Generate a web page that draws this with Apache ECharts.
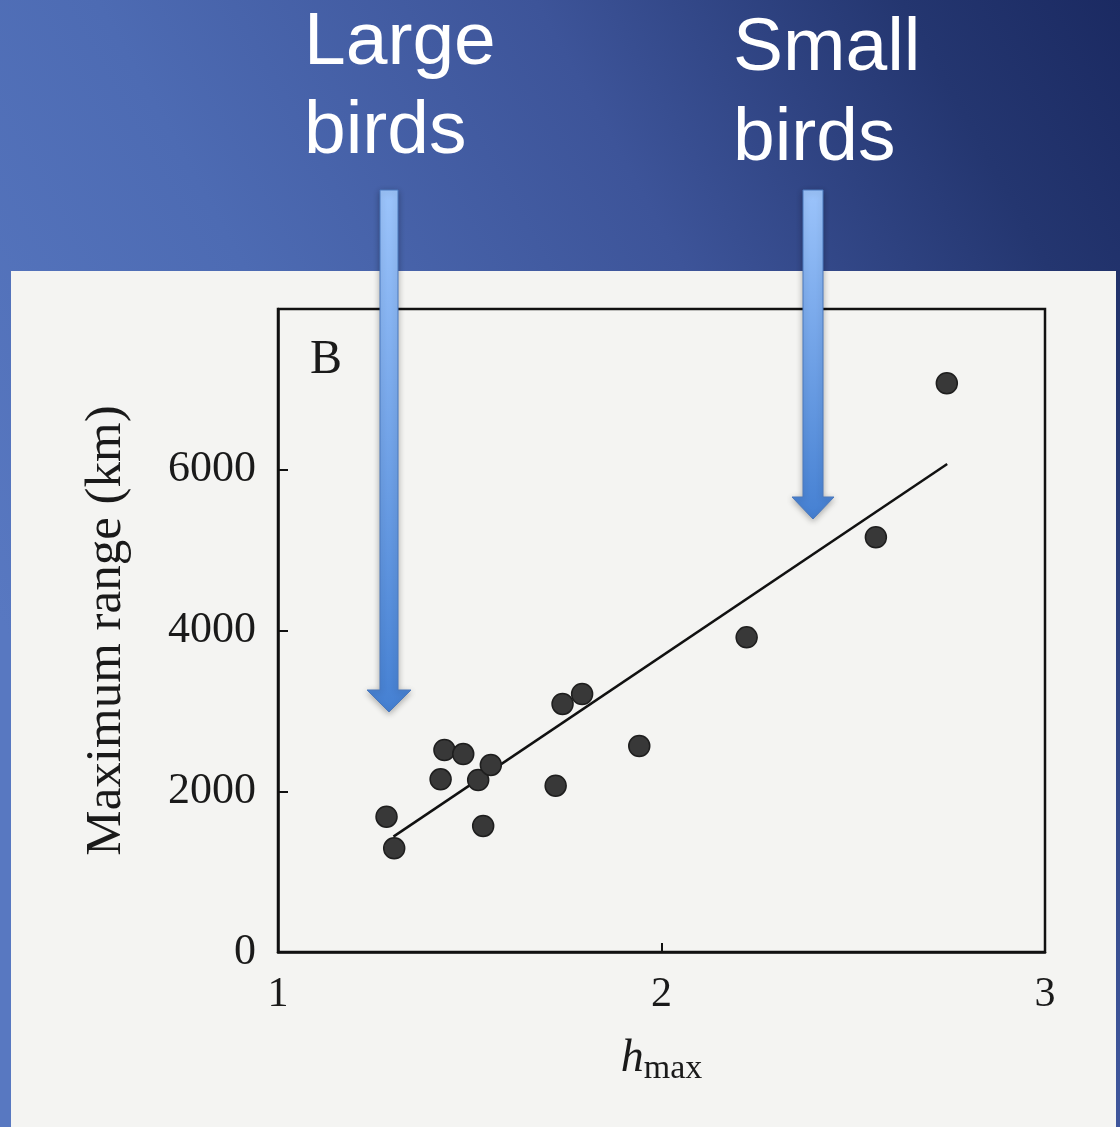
<!DOCTYPE html>
<html>
<head>
<meta charset="utf-8">
<title>Maximum range vs h max</title>
<script src="https://cdn.jsdelivr.net/npm/echarts@6/dist/echarts.min.js"></script>
<style>
  html, body { margin: 0; padding: 0; }
  #chart { width: 1120px; height: 1127px; }
</style>
</head>
<body>
<div id="chart"></div>
<script>
// bird data
const hMax = [1.283, 1.303, 1.434, 1.483, 1.424, 1.522, 1.555, 1.535, 1.724, 1.742, 1.793, 1.942, 2.222, 2.559, 2.744];
const maxRange = [1683, 1290, 2513, 2463, 2149, 2140, 2327, 1568, 2069, 3086, 3210, 2563, 3915, 5160, 7076];

// fitted line end points
const fitX = [1.301, 2.745];
const fitY = [1435, 6072];

const xTicks = [1, 2, 3];
const yTicks = [0, 2000, 4000, 6000];

const chart = echarts.init(document.getElementById('chart'));

const serif = '"Liberation Serif", "DejaVu Serif", serif';
const sans = '"Liberation Sans", Arial, sans-serif';

// arrow outline helper (decoration only)
function arrow(x0, x1, top, headTop, hx0, hx1, tip) {
    const mid = (hx0 + hx1) / 2;
    return {
        type: 'polygon',
        z: 100,
        shape: {
            points: [[x0, top], [x1, top], [x1, headTop], [hx1, headTop], [mid, tip], [hx0, headTop], [x0, headTop]]
        },
        style: {
            fill: {
                type: 'linear', x: 0, y: 0, x2: 0, y2: 1,
                colorStops: [{ offset: 0, color: '#9cc4fb' }, { offset: 1, color: '#4580d2' }]
            },
            stroke: '#4a78bd',
            lineWidth: 1,
            shadowBlur: 6,
            shadowColor: 'rgba(0,0,0,0.3)',
            shadowOffsetY: 2
        }
    };
}

const option = {
    animation: false,
    graphic: [
        {
            type: 'rect',
            z: -100,
            shape: { x: 0, y: 0, width: 1120, height: 1127 },
            style: {
                fill: {
                    type: 'linear', x: 0, y: 0.55, x2: 1, y2: 0,
                    colorStops: [
                        { offset: 0, color: '#5878c1' },
                        { offset: 0.3, color: '#4d6bb3' },
                        { offset: 0.6, color: '#3d5499' },
                        { offset: 0.85, color: '#243670' },
                        { offset: 1, color: '#1b2a62' }
                    ]
                }
            }
        },
        {
            type: 'rect',
            z: -90,
            shape: { x: 11, y: 271, width: 1105, height: 856 },
            style: { fill: '#f4f4f2' }
        },
        {
            type: 'text',
            z: 100,
            left: 304,
            top: -1,
            style: { text: 'Large\nbirds', font: '75px ' + sans, fill: '#ffffff', lineHeight: 89 }
        },
        {
            type: 'text',
            z: 100,
            left: 733,
            top: 4,
            style: { text: 'Small\nbirds', font: '75px ' + sans, fill: '#ffffff', lineHeight: 90 }
        },
        {
            type: 'text',
            z: 50,
            left: 310,
            top: 336,
            style: { text: 'B', font: '48px ' + serif, fill: '#1a1a1a' }
        },
        arrow(380, 398, 190, 690, 367, 411, 712),
        arrow(803, 823, 190, 497, 792, 834, 519)
    ],
    grid: {
        left: 278,
        right: 75,
        top: 309,
        bottom: 175,
        show: true,
        borderColor: '#111',
        borderWidth: 2.5,
        backgroundColor: 'transparent'
    },
    xAxis: {
        type: 'value',
        min: 1,
        max: 3,
        interval: 1,
        name: '{h|h}{s|max}',
        nameLocation: 'middle',
        nameGap: 84,
        nameTextStyle: {
            rich: {
                h: { fontFamily: serif, fontStyle: 'italic', fontSize: 46, color: '#1a1a1a', verticalAlign: 'bottom' },
                s: { fontFamily: serif, fontSize: 34, color: '#1a1a1a', verticalAlign: 'bottom', padding: [0, 0, -4, 0] }
            }
        },
        axisLine: { show: true, lineStyle: { color: '#111', width: 2.5 } },
        axisTick: { show: true, inside: true, length: 9, lineStyle: { color: '#111', width: 2 } },
        axisLabel: {
            margin: 22,
            fontFamily: serif,
            fontSize: 42,
            color: '#1a1a1a',
            formatter: v => xTicks.includes(v) ? String(v) : ''
        },
        splitLine: { show: false }
    },
    yAxis: {
        type: 'value',
        min: 0,
        max: 8000,
        interval: 2000,
        name: 'Maximum range (km)',
        nameLocation: 'middle',
        nameGap: 146,
        nameTextStyle: { fontFamily: serif, fontSize: 51, color: '#1a1a1a' },
        axisLine: { show: true, lineStyle: { color: '#111', width: 2.5 } },
        axisTick: { show: true, inside: true, length: 10, lineStyle: { color: '#111', width: 2 } },
        axisLabel: {
            margin: 22,
            fontFamily: serif,
            fontSize: 44,
            color: '#1a1a1a',
            formatter: v => yTicks.includes(v) ? String(v) : ''
        },
        splitLine: { show: false }
    },
    series: [
        {
            type: 'line',
            data: fitX.map((x, i) => [x, fitY[i]]),
            showSymbol: false,
            symbol: 'none',
            lineStyle: { color: '#111', width: 2.5 },
            z: 3
        },
        {
            type: 'scatter',
            data: hMax.map((x, i) => [x, maxRange[i]]),
            symbol: 'circle',
            symbolSize: 21,
            itemStyle: { color: '#383838', borderColor: '#1e1e1e', borderWidth: 1.5, opacity: 1 },
            z: 4
        }
    ]
};

chart.setOption(option);

window.addEventListener('resize', function () {
    chart.resize();
});
</script>
</body>
</html>
